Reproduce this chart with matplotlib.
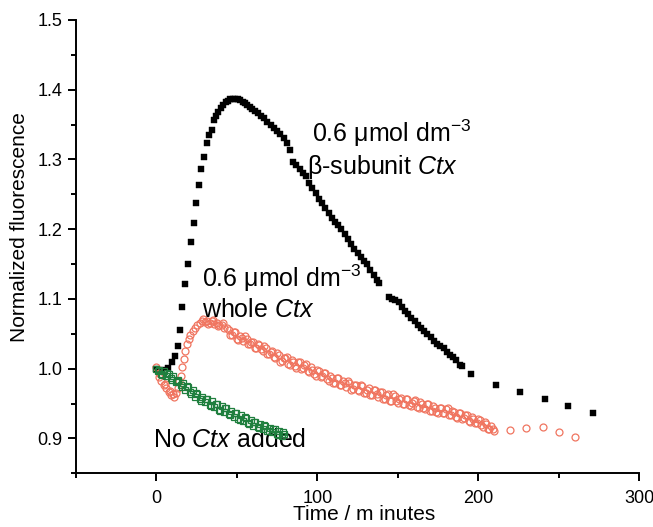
import numpy as np
import matplotlib
matplotlib.use('Agg')
import matplotlib.pyplot as plt
from matplotlib.ticker import MultipleLocator

## ========= data ===============================

## beta-subunit Ctx (black squares)
beta_t = [0, 3.5, 7, 9.8, 11.6, 13.1, 14.5, 16.0, 17.7, 19.5, 21.6, 23.3, 24.7, 26.4,
          28.0, 29.7, 31.3, 32.6, 34.3, 35.7, 37.0, 38.5, 40.0, 41.5, 43.0, 44.5, 46.0,
          47.5, 49.0, 50.5, 52.0, 53.5, 55.0, 56.5, 58.0, 59.5, 61.0, 63.0, 65.0, 67.0,
          69.0, 71.0, 73.0, 75.0, 77.0, 79.0, 81.0, 83.0, 85.0, 87.0, 89.0, 91.0, 93.0,
          95.0, 97.0, 99.0, 101.0, 103.0, 105.0, 107.0, 109.0, 111.0, 113.0, 115.0,
          117.0, 119.0, 121.0, 123.0, 125.0, 127.0, 129.0, 131.0, 133.0, 135.0, 137.0,
          138.5, 144.5, 146.5, 148.5, 150.5, 152.5, 154.5, 156.5, 158.5, 160.5, 162.5,
          164.5, 166.5, 168.5, 170.5, 172.5, 174.5, 176.5, 178.5, 180.5, 182.5, 184.5,
          186.5, 188.5, 190.0, 195.6, 211.2, 225.8, 241.4, 255.9, 271.4]
beta_y = [1.000, 0.998, 1.001, 1.009, 1.018, 1.032, 1.055, 1.088, 1.121, 1.150, 1.181,
          1.209, 1.237, 1.263, 1.287, 1.303, 1.323, 1.335, 1.342, 1.356, 1.362, 1.368,
          1.374, 1.378, 1.382, 1.384, 1.386, 1.387, 1.387, 1.386, 1.385, 1.383, 1.381,
          1.378, 1.375, 1.372, 1.369, 1.366, 1.363, 1.360, 1.354, 1.349, 1.345, 1.341,
          1.336, 1.331, 1.324, 1.313, 1.297, 1.292, 1.286, 1.280, 1.276, 1.266, 1.259,
          1.252, 1.244, 1.238, 1.230, 1.223, 1.216, 1.210, 1.206, 1.200, 1.193, 1.186,
          1.179, 1.172, 1.166, 1.160, 1.155, 1.150, 1.142, 1.134, 1.127, 1.123, 1.103,
          1.100, 1.099, 1.096, 1.088, 1.082, 1.078, 1.072, 1.068, 1.063, 1.058, 1.054,
          1.050, 1.045, 1.040, 1.036, 1.033, 1.029, 1.024, 1.020, 1.017, 1.012, 1.006,
          1.004, 0.993, 0.977, 0.967, 0.957, 0.946, 0.937]

## whole Ctx (salmon open circles), two overlapping rows of the noisy band
whole_t = [0, 1.5, 3, 4.5, 6, 7.5, 9, 10.5, 12, 13.2, 14.2, 15, 16, 17, 18, 19, 20, 21,
           22.5, 24, 25.5, 27, 28.5, 30, 31.5, 33, 34.5, 36, 37.5, 39, 40.5, 42,
           44, 46, 48, 50, 52, 54, 56, 58, 60, 62, 64, 66, 68, 70, 72, 74, 76, 78, 80,
           82, 84, 86, 88, 90, 92, 94, 96, 98, 100, 102, 104, 106, 108, 110, 112, 114,
           116, 118, 120, 122, 124, 126, 128, 130, 132, 134, 136, 138, 140, 142, 144,
           146, 148, 150, 152, 154, 156, 158, 160, 162, 164, 166, 168, 170, 172, 174,
           176, 178, 180, 182, 184, 186, 188, 190, 192, 194, 196, 198, 200, 202, 204,
           206, 208, 210, 219.5, 230, 240.3, 250, 260]
whole_y = [1.002, 0.988, 0.982, 0.976, 0.972, 0.966, 0.962, 0.963, 0.965, 0.972, 0.982,
           0.990, 1.002, 1.014, 1.026, 1.035, 1.043, 1.049, 1.054, 1.059, 1.063, 1.066,
           1.068, 1.067, 1.069, 1.066, 1.068, 1.064, 1.066, 1.062, 1.063, 1.058,
           1.058, 1.049, 1.052, 1.043, 1.047, 1.039, 1.043, 1.035, 1.038, 1.029, 1.034,
           1.025, 1.029, 1.021, 1.025, 1.016, 1.020, 1.011, 1.016, 1.007, 1.012, 1.004,
           1.009, 1.000, 1.006, 0.996, 1.002, 0.992, 0.998, 0.988, 0.994, 0.985, 0.990,
           0.980, 0.986, 0.977, 0.983, 0.974, 0.980, 0.971, 0.977, 0.968, 0.975, 0.965,
           0.972, 0.962, 0.969, 0.959, 0.966, 0.957, 0.964, 0.954, 0.961, 0.951, 0.958,
           0.949, 0.956, 0.947, 0.954, 0.945, 0.952, 0.943, 0.950, 0.940, 0.947, 0.938,
           0.944, 0.936, 0.942, 0.934, 0.940, 0.931, 0.937, 0.928, 0.934, 0.925, 0.931,
           0.922, 0.928, 0.919, 0.924, 0.913, 0.918, 0.911, 0.912, 0.9147, 0.917,
           0.9085, 0.902]
whole_t2 = [2.2, 5.2, 8.2, 11.2, 29, 32.2, 35.2, 38.2, 41.2,
            45, 47, 49, 51, 53, 55, 57, 59, 61, 63, 65, 67, 69, 71, 73, 75, 77, 79, 81,
            83, 85, 87, 89, 91, 93, 95, 97, 99, 101, 103, 105, 107, 109, 111, 113, 115,
            117, 119, 121, 123, 125, 127, 129, 131, 133, 135, 137, 139, 141, 143, 145,
            147, 149, 151, 153, 155, 157, 159, 161, 163, 165, 167, 169, 171, 173, 175,
            177, 179, 181, 183, 185, 187, 189, 191, 193, 195, 197, 199, 201, 203, 205,
            207, 209]
whole_y2 = [0.992, 0.978, 0.968, 0.960, 1.071, 1.064, 1.070, 1.061, 1.065,
            1.055, 1.048, 1.052, 1.041, 1.044, 1.047, 1.035, 1.038, 1.029, 1.036, 1.028,
            1.033, 1.021, 1.024, 1.017, 1.022, 1.010, 1.015, 1.017, 1.006, 1.010, 1.001,
            1.009, 1.001, 1.007, 0.995, 0.998, 0.989, 0.997, 0.989, 0.994, 0.982, 0.987,
            0.980, 0.986, 0.976, 0.979, 0.982, 0.970, 0.977, 0.970, 0.977, 0.965, 0.970,
            0.962, 0.970, 0.963, 0.967, 0.957, 0.962, 0.953, 0.963, 0.954, 0.957, 0.949,
            0.957, 0.948, 0.951, 0.955, 0.943, 0.949, 0.942, 0.949, 0.939, 0.944, 0.936,
            0.944, 0.937, 0.943, 0.933, 0.938, 0.929, 0.937, 0.929, 0.933, 0.924, 0.928,
            0.922, 0.926, 0.917, 0.920, 0.913, 0.914]

## no Ctx added (green open squares), two overlapping rows
none_t = [0, 1.5, 3, 4.5, 6, 7.5, 9, 10.5, 12, 13.5, 15, 16.5, 18, 19.5, 21, 22.5, 24,
          25.5, 27, 28.5, 30, 31.5, 33, 34.5, 36, 37.5, 39, 40.5, 42, 43.5, 45, 46.5, 48,
          49.5, 51, 52.5, 54, 55.5, 57, 58.5, 60, 61.5, 63, 64.5, 66, 67.5, 69, 70.5, 72,
          73.5, 75, 76.5, 78, 79.5]
none_y = [1.000, 0.998, 0.993, 0.997, 0.990, 0.993, 0.986, 0.989, 0.981, 0.984, 0.976,
          0.979, 0.970, 0.974, 0.966, 0.969, 0.960, 0.964, 0.956, 0.960, 0.952, 0.956,
          0.948, 0.953, 0.945, 0.949, 0.941, 0.946, 0.938, 0.943, 0.935, 0.939, 0.931,
          0.936, 0.928, 0.933, 0.925, 0.930, 0.922, 0.926, 0.918, 0.923, 0.916, 0.920,
          0.913, 0.918, 0.911, 0.915, 0.909, 0.913, 0.906, 0.911, 0.904, 0.907]
none_t2 = [0.75, 3.75, 6.75, 9.75, 12.75, 15.75, 18.75, 21.75, 24.75, 27.75, 30.75,
           33.75, 36.75, 39.75, 42.75, 45.75, 48.75, 51.75, 54.75, 57.75, 60.75, 63.75,
           66.75, 69.75, 72.75, 75.75, 78.75]
none_y2 = [0.996, 0.991, 0.994, 0.984, 0.983, 0.974, 0.975, 0.963, 0.965, 0.954, 0.957,
           0.947, 0.950, 0.940, 0.944, 0.934, 0.937, 0.927, 0.931, 0.921, 0.924, 0.915,
           0.919, 0.910, 0.914, 0.905, 0.909]

x_ticks = [0, 100, 200, 300]
y_ticks = [0.9, 1.0, 1.1, 1.2, 1.3, 1.4, 1.5]

## ========= plotting ==========

plt.rcParams['font.family'] = ['Liberation Sans', 'DejaVu Sans']
plt.rcParams['mathtext.fontset'] = 'custom'
plt.rcParams['mathtext.rm'] = 'Liberation Sans'
plt.rcParams['mathtext.it'] = 'Liberation Sans:italic'
plt.rcParams['mathtext.default'] = 'regular'

fig = plt.figure(figsize=(6.53, 5.27), dpi=100)
ax = fig.add_axes([0.1164, 0.1019, 0.8622, 0.8602])

salmon = '#f07560'
green = '#1f7f3e'

ax.plot(beta_t, beta_y, ls='none', marker='s', ms=5.0, mfc='black', mec='black', mew=0.3, zorder=2)
ax.plot(whole_t + whole_t2, whole_y + whole_y2, ls='none', marker='o', ms=5.0,
        mfc='none', mec=salmon, mew=0.9, zorder=3)
ax.plot(none_t + none_t2, none_y + none_y2, ls='none', marker='s', ms=3.9,
        mfc='none', mec=green, mew=0.9, zorder=4)

ax.set_xlim(-50, 300)
ax.set_ylim(0.85, 1.5)
ax.set_xticks(x_ticks)
ax.set_yticks(y_ticks)
ax.set_yticklabels([f'{v:.1f}' for v in y_ticks])
ax.xaxis.set_minor_locator(MultipleLocator(50))
ax.yaxis.set_minor_locator(MultipleLocator(0.05))

for side in ['top', 'right']:
    ax.spines[side].set_visible(False)
for side in ['left', 'bottom']:
    ax.spines[side].set_linewidth(1.4)

ax.tick_params(which='major', direction='out', length=6, width=1.4, labelsize=13)
ax.tick_params(which='minor', direction='out', length=3.5, width=1.4)
ax.tick_params(axis='x', which='major', pad=6)
ax.tick_params(axis='y', which='major', pad=3.5)

ax.set_xlabel('Time / m inutes', fontsize=15)
ax.set_ylabel('Normalized fluorescence', fontsize=15)
ax.xaxis.set_label_coords(0.512, -0.071)
ax.yaxis.set_label_coords(-0.083, 0.543)

fs = 18
ax.text(97.0, 1.325, '0.6 μmol dm$^{-3}$', fontsize=fs, va='baseline')
ax.text(93.9, 1.2797, 'β-subunit $\\mathit{Ctx}$', fontsize=fs, va='baseline')
ax.text(28.5, 1.1168, '0.6 μmol dm$^{-3}$', fontsize=fs, va='baseline')
ax.text(28.5, 1.0737, 'whole $\\mathit{Ctx}$', fontsize=fs, va='baseline')
ax.text(-1.9, 0.887, 'No $\\mathit{Ctx}$ added', fontsize=fs, va='baseline')

fig.savefig('out.png', dpi=100)
